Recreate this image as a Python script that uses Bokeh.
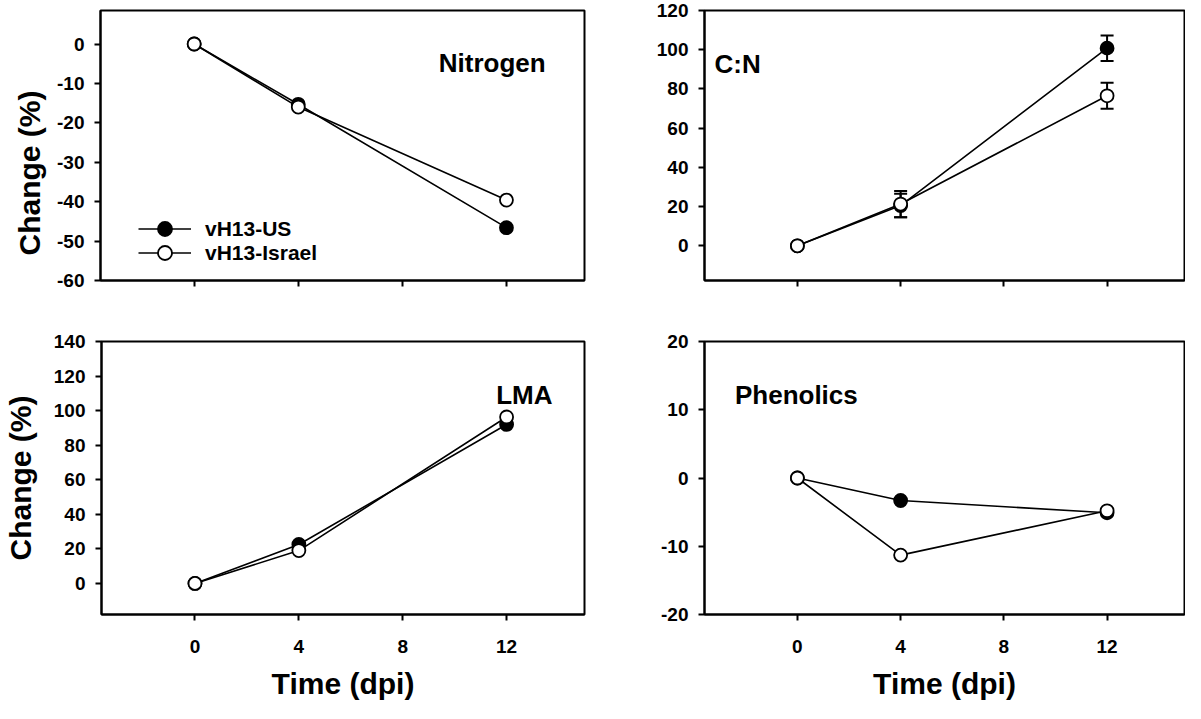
from bokeh.plotting import figure
from bokeh.layouts import column, row
from bokeh.models import (FixedTicker, Label, Legend, LegendItem, Whisker, Title,
                          ColumnDataSource, Range1d, TeeHead, PrintfTickFormatter)
from bokeh.embed import file_html
from bokeh.resources import INLINE

# ---------------- data ----------------
days = [0, 4, 12]
x_ticks = [0, 4, 8, 12]

nitrogen_us = [0, -15.3, -46.6]
nitrogen_il = [0, -16.0, -39.6]

cn_us = [0, 20.5, 100.8]
cn_us_err = [0, 6.0, 6.5]
cn_il = [0, 21.3, 76.5]
cn_il_err = [0, 6.7, 6.6]

lma_us = [0, 22.5, 92.0]
lma_il = [0, 19.0, 96.3]

phen_us = [0, -3.3, -5.1]
phen_il = [0, -11.3, -4.8]

series_names = ["vH13-US", "vH13-Israel"]
y_label = "Change (%)"
x_label = "Time (dpi)"

FONT = "Liberation Sans"
X_RANGE = (-3.6, 15)


def make_panel(us, il, y_range, y_ticks, width, height, bl, br, bt, bb,
               bottom_labels, title, title_xy, us_err=None, il_err=None):
    p = figure(width=width, height=height,
               x_range=Range1d(*X_RANGE), y_range=Range1d(*y_range),
               output_backend="svg", toolbar_location=None,
               min_border_left=bl, min_border_right=br,
               min_border_top=bt, min_border_bottom=bb)
    p.grid.visible = False
    p.background_fill_color = "white"
    p.border_fill_color = "white"
    p.outline_line_color = "black"
    p.outline_line_width = 2
    p.outline_line_alpha = 1

    for ax in (p.xaxis, p.yaxis):
        ax.axis_line_width = 2
        ax.axis_line_color = "black"
        ax.major_tick_line_width = 2
        ax.major_tick_line_color = "black"
        ax.major_tick_out = 6
        ax.major_tick_in = 0
        ax.minor_tick_line_color = None
        ax.major_label_text_font = FONT
        ax.major_label_text_font_style = "bold"
        ax.major_label_text_font_size = "19px"
        ax.major_label_text_color = "black"
        ax.axis_label_text_font = FONT
        ax.axis_label_text_font_style = "bold"
        ax.axis_label_text_color = "black"

    p.xaxis.ticker = FixedTicker(ticks=x_ticks)
    p.yaxis.ticker = FixedTicker(ticks=y_ticks)
    p.yaxis.formatter = PrintfTickFormatter(format="%d")
    p.xaxis.formatter = PrintfTickFormatter(format="%d")
    p.yaxis.major_label_standoff = 10

    if bottom_labels:
        p.xaxis.major_label_standoff = 19
        p.xaxis.axis_label = x_label
        p.xaxis.axis_label_text_font_size = "30px"
        p.xaxis.axis_label_standoff = 11
    else:
        p.xaxis.major_label_overrides = {t: "" for t in x_ticks}
        p.xaxis.major_label_text_font_size = "0px"
        p.xaxis.major_label_standoff = 0

    # error bars (behind markers)
    for vals, errs in ((us, us_err), (il, il_err)):
        if errs is None:
            continue
        xs = [d for d, e in zip(days, errs) if e > 0]
        lo = [v - e for v, e in zip(vals, errs) if e > 0]
        hi = [v + e for v, e in zip(vals, errs) if e > 0]
        src = ColumnDataSource(dict(x=xs, lower=lo, upper=hi))
        w = Whisker(source=src, base="x", lower="lower", upper="upper",
                    level="underlay", line_width=2, line_color="black",
                    upper_head=TeeHead(size=13, line_width=2, line_color="black"),
                    lower_head=TeeHead(size=13, line_width=2, line_color="black"))
        p.add_layout(w)

    l_us = p.line(days, us, line_width=1.6, line_color="black")
    l_il = p.line(days, il, line_width=1.6, line_color="black")
    s_us = p.scatter(days, us, marker="circle", size=13, fill_color="black",
                     line_color="black", line_width=1.8)
    s_il = p.scatter(days, il, marker="circle", size=13, fill_color="white",
                     line_color="black", line_width=1.8)

    p.add_layout(Label(x=title_xy[0], y=title_xy[1], text=title,
                       text_font=FONT, text_font_style="bold",
                       text_font_size="26px", text_color="black",
                       text_baseline="alphabetic", text_align="left"))
    return p, (l_us, s_us), (l_il, s_il)


TOP_H, BOT_H = 300, 404
LW, RW = 600, 585

p1, r_us, r_il = make_panel(nitrogen_us, nitrogen_il, (-60, 8.5),
                            [-60, -50, -40, -30, -20, -10, 0],
                            LW, TOP_H, 100, 16, 10, 20, False,
                            "Nitrogen", (9.4, -4.9))
p2, _, _ = make_panel(cn_us, cn_il, (-17.7, 120),
                      [0, 20, 40, 60, 80, 100, 120],
                      RW, TOP_H, 104, 1, 10, 20, False,
                      "C:N", (-3.21, 92.8), us_err=cn_us_err, il_err=cn_il_err)
p3, _, _ = make_panel(lma_us, lma_il, (-18, 140),
                      [0, 20, 40, 60, 80, 100, 120, 140],
                      LW, BOT_H, 100, 16, 41, 90, True,
                      "LMA", (11.6, 108.9))
p4, _, _ = make_panel(phen_us, phen_il, (-20, 20),
                      [-20, -10, 0, 10, 20],
                      RW, BOT_H, 104, 1, 41, 90, True,
                      "Phenolics", (-2.42, 12.2))

# y-axis titles (left panels); the upper one sits lower than the frame centre
p3.yaxis.axis_label = y_label
p3.yaxis.axis_label_text_font_size = "30px"
p3.yaxis.axis_label_standoff = 14
p1.add_layout(Title(text=y_label, align="left", offset=25, standoff=18,
                    text_font=FONT, text_font_style="bold",
                    text_font_size="30px", text_color="black"), "left")

common = dict(border_line_color=None, background_fill_alpha=0,
              padding=0, margin=0, spacing=0,
              glyph_width=53, glyph_height=35, label_standoff=14,
              label_text_font=FONT, label_text_font_style="bold",
              label_text_font_size="21px", label_text_color="black",
              label_text_baseline="middle")
leg_us = Legend(items=[LegendItem(label=series_names[0], renderers=list(r_us))],
                location=(38, 34), **common)
leg_il = Legend(items=[LegendItem(label=series_names[1], renderers=list(r_il))],
                location=(38, 10), **common)
p1.add_layout(leg_us)
p1.add_layout(leg_il)

layout = column(row(p1, p2, spacing=0), row(p3, p4, spacing=0), spacing=0)

with open("out.html", "w") as f:
    f.write(file_html(layout, INLINE))
